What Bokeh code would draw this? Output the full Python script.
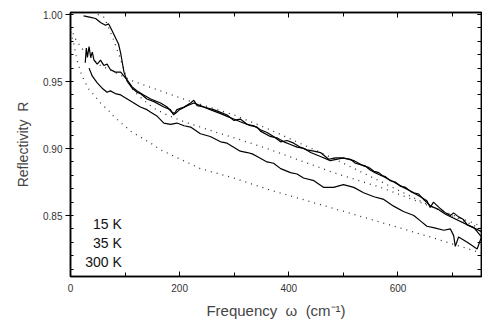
from bokeh.plotting import figure
from bokeh.models import LinearAxis, SingleIntervalTicker, NumeralTickFormatter, Label, Range1d, CustomJSTickFormatter
from bokeh.embed import file_html
from bokeh.resources import INLINE

# ---- data ----
# measured reflectivity, 15 K
w15 = [24, 35, 46, 55, 64, 70, 76, 82, 88, 92, 95, 98, 104, 113, 122, 128, 140, 153, 171, 183, 189, 195,
       208, 220, 226, 232, 244, 262, 275, 287, 299, 311, 324, 336, 348, 360, 372, 385, 397, 409, 421, 433,
       446, 458, 473, 485, 495, 513, 522, 531, 540, 549, 558, 568, 577, 586, 595, 604, 614, 623, 632, 641,
       653, 659, 665, 678, 687, 696, 702, 711, 720, 727, 739, 753]
r15 = [0.999, 0.998, 0.997, 0.994, 0.992, 0.993, 0.988, 0.983, 0.978, 0.971, 0.964, 0.957, 0.950, 0.945,
       0.942, 0.941, 0.937, 0.935, 0.931, 0.929, 0.925, 0.929, 0.931, 0.934, 0.936, 0.932, 0.931, 0.929,
       0.927, 0.925, 0.921, 0.922, 0.918, 0.917, 0.914, 0.912, 0.909, 0.905, 0.906, 0.904, 0.901, 0.899,
       0.898, 0.897, 0.892, 0.893, 0.893, 0.892, 0.889, 0.888, 0.887, 0.884, 0.882, 0.880, 0.879, 0.876,
       0.875, 0.872, 0.871, 0.868, 0.866, 0.864, 0.861, 0.856, 0.860, 0.855, 0.852, 0.850, 0.852, 0.849,
       0.847, 0.843, 0.841, 0.834]
# measured reflectivity, 35 K
w35 = [27, 29, 31, 34, 37, 40, 43, 49, 55, 61, 67, 73, 82, 92, 98, 104, 113, 122, 134, 147, 165, 177,
       186, 192, 200, 214, 226, 238, 256, 275, 287, 299, 311, 330, 342, 348, 366, 378, 391, 403, 415, 428,
       440, 458, 476, 500, 519, 537, 546, 556, 565, 574, 592, 610, 629, 638, 647, 660, 672, 687, 753]
r35 = [0.964, 0.975, 0.968, 0.976, 0.968, 0.972, 0.966, 0.963, 0.966, 0.962, 0.963, 0.959, 0.957, 0.957,
       0.954, 0.951, 0.946, 0.943, 0.940, 0.937, 0.934, 0.931, 0.927, 0.926, 0.929, 0.932, 0.934, 0.932,
       0.929, 0.926, 0.924, 0.922, 0.920, 0.917, 0.916, 0.913, 0.909, 0.908, 0.905, 0.903, 0.901, 0.900,
       0.897, 0.894, 0.891, 0.893, 0.891, 0.887, 0.886, 0.883, 0.882, 0.879, 0.875, 0.871, 0.867, 0.866,
       0.862, 0.857, 0.855, 0.851, 0.838]
# measured reflectivity, 300 K
w300 = [34, 40, 49, 58, 67, 73, 82, 92, 104, 116, 128, 140, 147, 159, 171, 183, 195, 208, 220, 238, 256,
        275, 287, 299, 311, 324, 333, 342, 360, 372, 385, 403, 415, 427, 446, 464, 482, 500, 519, 537, 556,
        574, 592, 610, 629, 641, 653, 665, 684, 696, 702, 705, 711, 727, 745, 753]
r300 = [0.960, 0.954, 0.949, 0.945, 0.942, 0.943, 0.941, 0.940, 0.937, 0.934, 0.931, 0.929, 0.927, 0.924,
        0.919, 0.918, 0.919, 0.917, 0.916, 0.911, 0.909, 0.905, 0.904, 0.901, 0.898, 0.897, 0.896, 0.894,
        0.890, 0.889, 0.885, 0.882, 0.881, 0.878, 0.876, 0.871, 0.871, 0.873, 0.871, 0.867, 0.864, 0.862,
        0.857, 0.853, 0.850, 0.846, 0.842, 0.841, 0.839, 0.840, 0.835, 0.827, 0.834, 0.830, 0.825, 0.834]

# fits (dotted)
wf15 = [50, 61, 67, 73, 79, 88, 98, 104, 116, 134, 153, 177, 208, 238, 275, 300, 360, 421, 482, 568, 659, 753]
rf15 = [1.000, 0.998, 0.993, 0.987, 0.981, 0.971, 0.959, 0.951, 0.943, 0.936, 0.930, 0.925, 0.920, 0.916,
        0.911, 0.908, 0.900, 0.891, 0.882, 0.871, 0.857, 0.842]
wf35 = [0, 10, 24, 40, 55, 85, 116, 165, 214, 238, 300, 360, 420, 480, 540, 600, 660, 720, 753]
rf35 = [0.990, 0.981, 0.973, 0.967, 0.962, 0.956, 0.950, 0.943, 0.936, 0.933, 0.925, 0.915, 0.904, 0.893,
        0.881, 0.869, 0.857, 0.846, 0.840]
wf300 = [0, 6, 12, 21, 34, 43, 55, 73, 79, 110, 147, 165, 238, 299, 366, 476, 568, 659, 753]
rf300 = [0.987, 0.978, 0.966, 0.954, 0.944, 0.940, 0.934, 0.927, 0.924, 0.913, 0.904, 0.899, 0.885, 0.878,
         0.869, 0.856, 0.845, 0.834, 0.822]

labels = ["15 K", "35 K", "300 K"]
label_y = [0.8440, 0.8298, 0.8156]

FONT = "Liberation Sans"
NB = "\u00a0"

p = figure(width=482, height=323, x_range=Range1d(0, 753), y_range=Range1d(0.8045, 1.0015),
           output_backend="svg", toolbar_location=None,
           min_border_left=70, min_border_right=1, min_border_top=12, min_border_bottom=47,
           x_axis_label="Frequency" + NB * 2 + "ω" + NB * 2 + "(cm⁻¹)",
           y_axis_label="Reflectivity" + NB * 2 + "R")
p.xgrid.visible = False
p.ygrid.visible = False
p.outline_line_color = "black"
p.outline_line_width = 1.5
p.background_fill_color = "white"
p.border_fill_color = "white"

# bottom axis
xa = p.xaxis[0]
xa.ticker = SingleIntervalTicker(interval=200, num_minor_ticks=2)
xa.major_tick_in = 5
xa.major_tick_out = 0
xa.minor_tick_in = 4
xa.minor_tick_out = 0
xa.axis_line_width = 1.5
xa.major_label_standoff = 7
xa.major_label_text_font = FONT
xa.major_label_text_font_size = "10px"
xa.major_label_text_color = "#333333"
xa.axis_label_text_font = FONT
xa.axis_label_text_font_style = "normal"
xa.axis_label_text_font_size = "15px"
xa.axis_label_standoff = 7

# left axis
ya = p.yaxis[0]
ya.ticker = SingleIntervalTicker(interval=0.05, num_minor_ticks=5)
ya.formatter = NumeralTickFormatter(format="0.00")
ya.major_tick_in = 0
ya.major_tick_out = 5
ya.minor_tick_in = 3
ya.minor_tick_out = 0
ya.axis_line_width = 1.5
ya.major_label_standoff = 3
ya.major_label_text_font = FONT
ya.major_label_text_font_size = "10px"
ya.major_label_text_color = "#333333"
ya.axis_label_text_font = FONT
ya.axis_label_text_font_style = "normal"
ya.axis_label_text_font_size = "14px"
ya.axis_label_standoff = 9

# top and right axes: ticks only
blank = CustomJSTickFormatter(code="return ''")
top = LinearAxis(ticker=SingleIntervalTicker(interval=200, num_minor_ticks=2), formatter=blank,
                 major_tick_in=5, major_tick_out=0, minor_tick_in=4, minor_tick_out=0,
                 major_label_standoff=0, axis_line_width=1.5)
p.add_layout(top, "above")
right = LinearAxis(ticker=SingleIntervalTicker(interval=0.05, num_minor_ticks=5), formatter=blank,
                   major_tick_in=4, major_tick_out=0, minor_tick_in=4, minor_tick_out=0,
                   major_label_standoff=0, axis_line_width=1.5)
p.add_layout(right, "right")

# fits
for w, r in [(wf15, rf15), (wf35, rf35), (wf300, rf300)]:
    p.line(w, r, line_color="#333333", line_width=1.3, line_dash="1 5")
# data
for w, r in [(w15, r15), (w35, r35), (w300, r300)]:
    p.line(w, r, line_color="black", line_width=1.2)

for t, yv in zip(labels, label_y):
    p.add_layout(Label(x=94, y=yv, text=t, text_align="right", text_baseline="middle",
                       text_font=FONT, text_font_size="14px", text_color="#111111"))

open("out.html", "w").write(file_html(p, INLINE))
